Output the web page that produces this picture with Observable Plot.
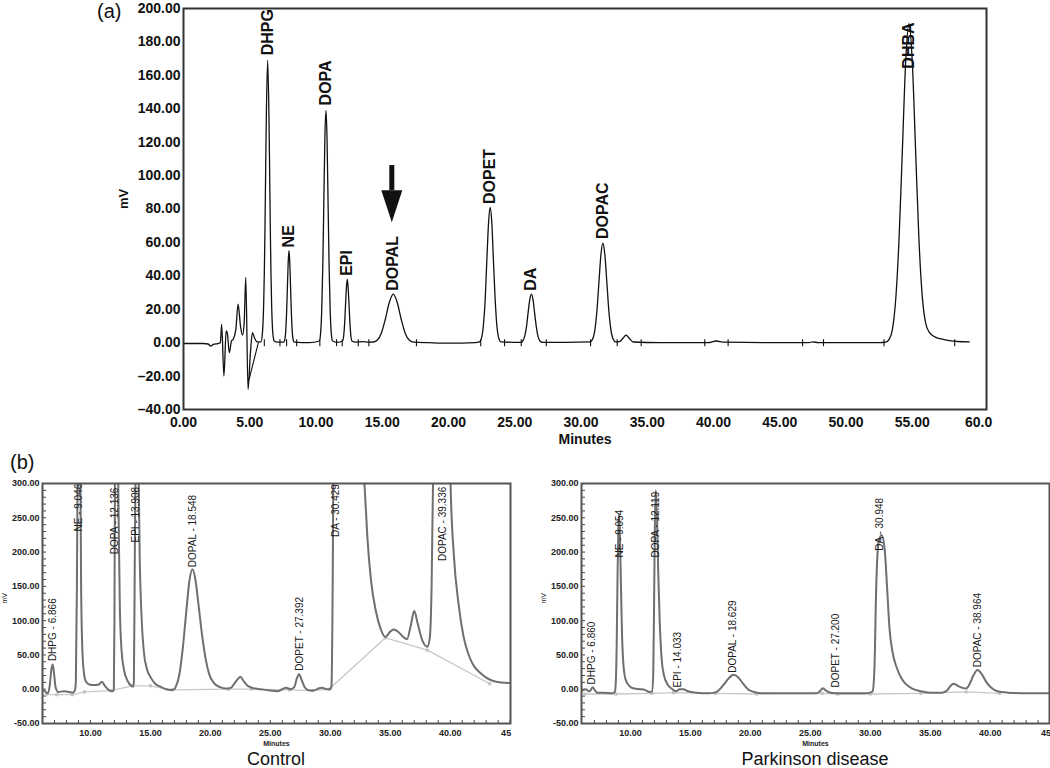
<!DOCTYPE html>
<html><head><meta charset="utf-8">
<script src="https://cdn.jsdelivr.net/npm/d3@7"></script>
<script src="https://cdn.jsdelivr.net/npm/@observablehq/plot@0.6"></script>
<style>
body{margin:0;background:#fff;}
#wrap{position:relative;width:1050px;height:768px;overflow:hidden;font-family:"Liberation Sans",Arial,sans-serif;color:#111;}
.tag{font-size:20px;line-height:20px;}
.cap{font-size:18px;line-height:16px;transform:translateX(-50%);white-space:nowrap;}
</style></head><body><div id="wrap"></div>
<script>
// ---------------- Panel (a): standard chromatogram ----------------
const traceA = [[0,-0.5],[1.5,-0.5],[1.85,-0.8],[2.05,-2],[2.25,-1],[2.6,-0.5],[2.78,0],
[2.88,11],[3.05,-20],[3.22,7],[3.3,6],[3.46,-6],[3.62,1],[3.75,2],[3.95,8],[4.12,23],[4.3,10],[4.45,4.5],[4.58,12],[4.7,39],[4.87,-28],[5.05,-6],[5.2,6],[5.35,3],[5.55,0.5],
[5.85,0.5],[5.95,5],[6.05,23],[6.1,42],[6.15,69],[6.2,103],[6.25,135],[6.35,169],[6.45,135],[6.5,103],[6.55,69],[6.6,42],[6.65,23],[6.75,5],[6.85,1],[7.1,0.3],
[7.56,0.3],[7.64,1.6],[7.72,7.5],[7.78,18],[7.84,33],[7.9,48],[7.96,55],[8.02,48],[8.08,33],[8.14,18],[8.2,7.5],[8.28,1.6],[8.36,0.3],[9.5,0],
[10.25,1],[10.35,6],[10.43,19],[10.51,45],[10.59,84],[10.67,123],[10.75,139],[10.83,123],[10.91,84],[10.99,45],[11.07,19],[11.15,6],[11.25,1],[11.6,0.2],
[12.01,1],[12.1,5],[12.16,11.6],[12.23,23],[12.3,33.5],[12.36,38],[12.42,33.5],[12.49,23],[12.56,11.6],[12.62,5],[12.71,1],[13.0,0.3],[13.5,0.6],[14.0,0.3],
[14.33,0.4],[14.63,1.6],[14.93,5.7],[15.23,14],[15.53,24],[15.83,29],[16.13,24],[16.43,14],[16.73,5.7],[17.03,1.6],[17.4,0.3],[18.5,0],[20,-0.3],[22,0],
[22.34,0.5],[22.49,2.7],[22.64,11],[22.77,26],[22.89,49],[23.02,71.5],[23.14,81],[23.27,71.5],[23.39,49],[23.52,26],[23.64,11],[23.79,2.7],[23.94,0.5],[25.0,0.2],
[25.45,0.2],[25.6,1],[25.75,3.9],[25.88,9.3],[26.0,17.5],[26.13,25.6],[26.25,29],[26.38,25.6],[26.5,17.5],[26.63,9.3],[26.75,3.9],[26.9,1],[27.1,0.2],
[30.7,0.5],[30.87,2],[31.05,8],[31.2,19],[31.35,36],[31.5,52.5],[31.65,59.5],[31.8,52.5],[31.95,36],[32.1,19],[32.25,8],[32.43,2],[32.6,0.5],
[32.9,0.6],[33.15,2.5],[33.4,4.5],[33.65,2.5],[33.95,0.4],[36,0],[39.6,0],[40.2,1],[40.8,0.3],[44,0],[47.2,0],[47.5,0.5],[47.9,0],[52.5,0],
[53.0,0.3],[53.25,2],[53.5,8],[53.75,26],[54.0,62],[54.25,115],[54.5,168],[54.75,191],[55.0,168],[55.25,115],[55.5,62],[55.75,28],[56.0,12],[56.3,6],[56.7,3.5],[57.2,2.2],[57.8,1.2],[58.4,0.7],[59.3,0.5]];
const noiseBaselineA = [[4.95,-22],[5.65,0]];
const integrationTicksA = [6.1,7.28,7.78,8.54,10.29,11.55,11.98,13.19,13.99,17.58,22.43,24.23,25.49,27.38,30.72,32.73,34.54,39.34,41.1,46.72,48.3,52.87,58.2];
const peakNamesA = ["DHPG","NE","DOPA","EPI","DOPAL","DOPET","DA","DOPAC","DHBA"];
const peakTimesA = [6.35,7.96,10.75,12.36,15.83,23.14,26.25,31.65,54.75];
const labelBaseA = [172,57,142,40,31,83,31,62,164];
const arrowA = [{t:15.72, top:106, headBase:91, tip:72}];
const xTicksA = [0,5,10,15,20,25,30,35,40,45,50,55,60];
const xTickLabelsA = ["0.00","5.00","10.00","15.00","20.00","25.00","30.00","35.00","40.00","45.00","50.00","55.00","60.0"];
const yTicksA = [-40,-20,0,20,40,60,80,100,120,140,160,180,200];
const yTickLabelsA = ["\u201340.00","\u201320.00","0.00","20.00","40.00","60.00","80.00","100.00","120.00","140.00","160.00","180.00","200.00"];

// ---------------- Panel (b): Control ----------------
const traceControl = [[6.0,0],[6.2,-3],[6.45,-6],[6.6,5],[6.75,30],[6.85,36],[6.95,25],[7.1,2],[7.3,-4],[7.8,-3],[8.2,-4],[8.5,-5],[8.7,-2],
[8.78,10],[8.87,150],[8.96,420],[9.05,500],[9.14,380],[9.22,150],[9.33,55],[9.45,25],[9.6,12],[9.9,7],[10.3,6],
[10.7,7],[10.95,11],[11.2,5],[11.6,-2],[11.85,-3],
[11.95,0],[12.0,100],[12.05,350],[12.14,480],[12.25,400],[12.35,250],[12.45,120],[12.6,55],[12.8,28],[13.1,12],[13.4,5],[13.55,4],
[13.62,10],[13.7,200],[13.8,380],[13.9,420],[14.0,340],[14.1,200],[14.25,110],[14.45,55],[14.7,30],[15.0,18],[15.4,8],[15.8,4],[16.3,0],[16.7,-1],[17.0,0],
[17.1,3],[17.4,20],[17.7,60],[18.0,115],[18.25,158],[18.5,175],[18.75,160],[19.0,125],[19.3,80],[19.6,45],[19.9,22],[20.3,9],[20.8,3],[21.3,1],[21.7,2],
[22.0,8],[22.3,15],[22.5,18],[22.8,11],[23.1,5],[23.5,2],[24.2,0],[25.0,-2],[25.6,-3],[26.0,0],[26.3,2],[26.7,0],
[27.0,3],[27.2,15],[27.4,22],[27.6,14],[27.9,2],[28.3,-2],[28.6,-2],[29.0,1],[29.3,2],[29.7,0],[30.0,0],
[30.1,5],[30.2,150],[30.3,450],[30.43,1200],[31.0,1500],[31.8,900],[32.5,450],[32.85,300],[33.1,220],[33.4,158],[33.8,114],[34.2,88],[34.6,76],[35.0,84],[35.3,87],[35.7,83],[36.1,76],[36.4,73],[36.7,92],[37.0,114],[37.3,95],[37.7,70],[38.1,62],
[38.3,75],[38.45,150],[38.6,350],[39.0,900],[39.34,1200],[39.7,700],[40.03,300],[40.3,197],[40.7,124],[41.1,78],[41.5,52],[41.9,36],[42.5,24],[43.0,17],[43.6,12],[44.1,10],[45.0,9]];
const baselineControl = [[6.3,-8],[7.2,-8],[8.5,-8],[9.5,-4],[11.7,-2],[13.5,5],[15.0,5],[16.8,-1],[21.5,0],[23.4,0],[26.6,-1],[28.5,-2],[29.9,0],[34.6,75],[38.1,57],[43.3,8]];
const labelsControl = ["DHPG - 6.866","NE - 9.046","DOPA - 12.136","EPI - 13.908","DOPAL - 18.548","DOPET - 27.392","DA - 30.429","DOPAC - 39.336"];
const labelTimesControl = [6.83,9.05,12.05,13.78,18.5,27.44,30.45,39.4];
const labelBaseControl = [41,230,197,214,178,27,222,187];

// ---------------- Panel (b): Parkinson disease ----------------
const tracePD = [[5.92,-2.5],[6.1,-1],[6.3,0],[6.5,-3],[6.65,-2],[6.86,3],[7.05,-2],[7.2,-5],[7.8,-5],[8.5,-6],[8.7,-4],
[8.78,10],[8.85,60],[8.93,170],[9.0,240],[9.05,255],[9.12,230],[9.2,160],[9.3,80],[9.42,35],[9.6,14],[9.9,5],[10.3,1],[10.8,0],[11.2,-1],[11.6,-4],[11.8,-3],
[11.9,20],[11.97,120],[12.04,240],[12.12,290],[12.22,250],[12.32,170],[12.45,95],[12.6,45],[12.8,20],[13.1,7],[13.5,0],
[13.8,-3],[14.1,0],[14.4,0],[14.8,-3],[15.5,-5],[16.5,-6],
[17.0,-5],[17.4,-1],[17.8,7],[18.2,16],[18.6,21],[19.0,17],[19.4,8],[19.8,0],[20.3,-4],[21.0,-6],[23.0,-6],[25.5,-6],
[25.8,-3],[26.05,1.5],[26.3,-2],[26.7,-5],[27.5,-6],[29.5,-6],[30.0,-5],
[30.2,-3],[30.35,30],[30.5,150],[30.7,215],[30.95,225],[31.2,205],[31.4,150],[31.6,90],[31.85,55],[32.2,32],[32.6,16],[33.0,7],[33.5,1],[34.2,-3],[35.0,-5],[36.0,-5],
[36.4,-2],[36.7,5],[36.95,8],[37.3,5],[37.7,2],[38.0,1],
[38.3,8],[38.6,20],[38.95,28],[39.3,22],[39.7,10],[40.1,2],[40.6,-3],[41.5,-5],[43,-6],[44.95,-6]];
const baselinePD = [[6.2,-7],[8.8,-7],[11.8,-6],[13.6,-5],[17.1,-6],[20.5,-7],[26.0,-6],[27.3,-7],[30.0,-7],[34.2,-6],[38.0,-4],[40.8,-6]];
const labelsPD = ["DHPG - 6.860","NE - 9.054","DOPA - 12.119","EPI - 14.033","DOPAL - 18.629","DOPET - 27.200","DA - 30.948","DOPAC - 38.964"];
const labelTimesPD = [6.8,9.08,12.08,13.97,18.56,27.1,30.83,38.94];
const labelBasePD = [7,192,192,2.5,24,2.5,202,32];

const xTicksB = [10,15,20,25,30,35,40];
const xTickLabelsB = ["10.00","15.00","20.00","25.00","30.00","35.00","40.00"];
const xLastTickB = [45];
const xLastTickLabelB = ["45"];
const yTicksB = [-50,0,50,100,150,200,250,300];
const yTickLabelsB = ["-50.00","0.00","50.00","100.00","150.00","200.00","250.00","300.00"];
const xMinorB = d3.range(7, 46);
const yMinorB = d3.range(-40, 300, 10);

// ---------------- helpers ----------------
const pts = a => a.map(([t, v]) => ({t, v}));
const FONT = "Liberation Sans, Arial, sans-serif";
const vTick = {draw(c){ c.moveTo(0,-3.5); c.lineTo(0,3.5); }};
const upTick = {draw(c){ c.moveTo(0,0); c.lineTo(0,-3.5); }};
const rightTick = {draw(c){ c.moveTo(0,0); c.lineTo(3.5,0); }};
const arrowHead = {draw(c){ c.moveTo(0,0); c.lineTo(-10.5,-32); c.lineTo(10.5,-32); c.closePath(); }};
const fmt = (vals, labels) => d => labels[vals.indexOf(d)];

const wrap = document.getElementById("wrap");
function place(el, left, top){ el.style.position="absolute"; el.style.left=left+"px"; el.style.top=top+"px"; wrap.appendChild(el); }

// ---------------- Panel (a) ----------------
const labelsA = peakNamesA.map((n,i)=>({name:n, t:peakTimesA[i], v:labelBaseA[i]}));
const plotA = Plot.plot({
  width:1050, height:460, marginLeft:183, marginRight:64, marginTop:8, marginBottom:51,
  x:{domain:[0,60.6]}, y:{domain:[-40,200]},
  style:{fontFamily:FONT, fontSize:"14px", fontWeight:"bold", color:"#111", background:"transparent"},
  marks:[
    Plot.axisY({ticks:yTicksA, tickFormat:fmt(yTicksA,yTickLabelsA), tickSize:0, tickPadding:3, label:null}),
    Plot.axisX({ticks:xTicksA, tickFormat:fmt(xTicksA,xTickLabelsA), tickSize:0, tickPadding:8, label:null}),
    Plot.line(pts(noiseBaselineA), {x:"t", y:"v", stroke:"#111", strokeWidth:1.1}),
    Plot.line(pts(traceA), {x:"t", y:"v", curve:"monotone-x", stroke:"#111", strokeWidth:1.3}),
    Plot.dot(integrationTicksA, {x:d=>d, y:()=>0, symbol:vTick, stroke:"#111", strokeWidth:1.1, fill:"none"}),
    Plot.text(labelsA, {x:"t", y:"v", text:"name", rotate:-90, textAnchor:"start", lineAnchor:"middle", fontSize:16, fontWeight:"bold", fill:"#111"}),
    Plot.ruleX(arrowA, {x:"t", y1:"headBase", y2:"top", stroke:"#111", strokeWidth:5}),
    Plot.dot(arrowA, {x:"t", y:"tip", symbol:arrowHead, fill:"#111", stroke:"none"}),
    Plot.text(["Minutes"], {frameAnchor:"bottom", dy:34, fontSize:14, fontWeight:"bold", fill:"#111"}),
    Plot.text(["mV"], {frameAnchor:"left", dx:-60, rotate:-90, fontSize:13, fontWeight:"bold", fill:"#111"}),
    Plot.frame({stroke:"#333", strokeWidth:2})
  ]
});
place(plotA, 0, 0);

// ---------------- Panel (b) ----------------
function panelB(trace, base, names, times, heights, xDomain, mLeft, mRight, width){
  const labels = names.map((n,i)=>({name:n, t:times[i], v:heights[i]}));
  return Plot.plot({
    width, height:282, marginLeft:mLeft, marginRight:mRight, marginTop:13, marginBottom:29,
    x:{domain:xDomain}, y:{domain:[-50,300]},
    style:{fontFamily:FONT, fontSize:"9px", fontWeight:"bold", color:"#222", background:"transparent"},
    marks:[
      Plot.axisY({ticks:yTicksB, tickFormat:fmt(yTicksB,yTickLabelsB), tickSize:0, tickPadding:3, label:null}),
      Plot.axisX({ticks:xTicksB, tickFormat:fmt(xTicksB,xTickLabelsB), tickSize:0, tickPadding:6, label:null}),
      Plot.text(xLastTickB, {x:d=>d, text:(d,i)=>xLastTickLabelB[i], frameAnchor:"bottom", dy:6, dx:1, textAnchor:"end", lineAnchor:"top", fontSize:9, fontWeight:"bold", fill:"#222"}),
      Plot.dot(xMinorB, {x:d=>d, frameAnchor:"bottom", symbol:upTick, stroke:"#444", strokeWidth:1, fill:"none"}),
      Plot.dot(yMinorB, {y:d=>d, frameAnchor:"left", symbol:rightTick, stroke:"#444", strokeWidth:1, fill:"none"}),
      Plot.line(pts(base), {x:"t", y:"v", stroke:"#c8c8c8", strokeWidth:1.3}),
      Plot.dot(pts(base), {x:"t", y:"v", symbol:"square", r:1.8, fill:"#c4c4c4", stroke:"none"}),
      Plot.line(pts(trace), {x:"t", y:"v", curve:"monotone-x", stroke:"#6f6f6f", strokeWidth:2, clip:true}),
      Plot.text(labels, {x:"t", y:"v", text:"name", rotate:-90, textAnchor:"start", lineAnchor:"middle", fontSize:10, fontWeight:"normal", fill:"#1a1a1a"}),
      Plot.text(["Minutes"], {frameAnchor:"bottom", dy:22, fontSize:7, fontWeight:"bold", fill:"#222"}),
      Plot.text(["mV"], {frameAnchor:"left", dx:-38, rotate:-90, fontSize:7, fontWeight:"normal", fill:"#222"}),
      Plot.frame({stroke:"#555", strokeWidth:2})
    ]
  });
}
place(panelB(traceControl, baselineControl, labelsControl, labelTimesControl, labelBaseControl, [6.0,45.03], 42, 15, 525), 0, 470);
place(panelB(tracePD, baselinePD, labelsPD, labelTimesPD, labelBasePD, [5.92,44.95], 51, 1, 520), 530, 470);

// ---------------- HTML text ----------------
function txt(s, cls, left, top){ const d=document.createElement("div"); d.className=cls; d.textContent=s; place(d,left,top); }
txt("(a)", "tag", 97, 1);
txt("(b)", "tag", 10, 452);
txt("Control", "cap", 276, 751);
txt("Parkinson disease", "cap", 815, 751);
</script>
</body></html>
